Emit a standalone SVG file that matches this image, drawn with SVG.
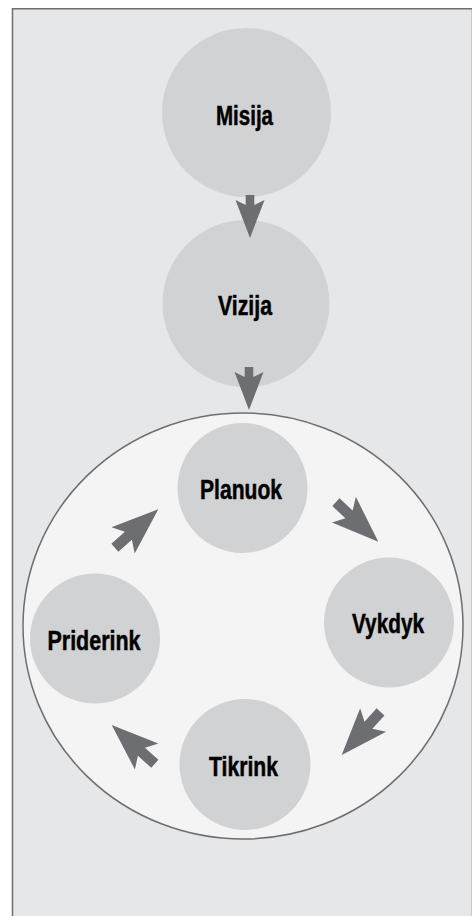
<svg xmlns="http://www.w3.org/2000/svg" width="472" height="916" viewBox="0 0 472 916">
<defs>
<style>
.bg{fill:#e6e7e8;stroke:#6d6e71;stroke-width:1.5}
.node{fill:#d1d2d4}
.ring{fill:#f4f4f5;stroke:#6d6e71;stroke-width:1.5}
.arrow{fill:#6d6e71}
.lbl{font-family:"Liberation Sans Narrow","Liberation Sans",Arial,sans-serif;font-weight:bold;font-size:27px;fill:#000;stroke:#000;stroke-width:0.5;text-anchor:middle}
</style>
<path id="va" d="M0,0 L-38,-14.5 L-33,-4.3 L-43,-4.3 L-43,4.3 L-33,4.3 L-38,14.5 Z"/>
<path id="ca" d="M0,0 L-47,-17.5 L-40,-5.3 L-58,-5.3 L-58,5.3 L-40,5.3 L-47,17.5 Z"/>
</defs>
<rect class="bg" x="12.5" y="8.75" width="460" height="920"/>
<g id="cycle">
<ellipse class="ring" cx="243" cy="626" rx="220" ry="213"/>
</g>
<g id="misija">
<circle class="node" cx="246.5" cy="112.5" r="84.5"/>
<text class="lbl" x="244.5" y="125" textLength="57" lengthAdjust="spacingAndGlyphs">Misija</text>
</g>
<g id="vizija">
<circle class="node" cx="246" cy="303.5" r="83.5"/>
<text class="lbl" x="245" y="315" textLength="54" lengthAdjust="spacingAndGlyphs">Vizija</text>
</g>
<g id="planuok">
<circle class="node" cx="242.5" cy="488" r="65"/>
<text class="lbl" x="241" y="499" textLength="82" lengthAdjust="spacingAndGlyphs">Planuok</text>
</g>
<g id="vykdyk">
<circle class="node" cx="389" cy="622.5" r="65"/>
<text class="lbl" x="388" y="633" textLength="72" lengthAdjust="spacingAndGlyphs">Vykdyk</text>
</g>
<g id="tikrink">
<circle class="node" cx="245" cy="764.5" r="65.5"/>
<text class="lbl" x="243.5" y="776" textLength="69" lengthAdjust="spacingAndGlyphs">Tikrink</text>
</g>
<g id="priderink">
<circle class="node" cx="95" cy="638.5" r="65"/>
<text class="lbl" x="94" y="649.5" textLength="93" lengthAdjust="spacingAndGlyphs">Priderink</text>
</g>
<g id="connectors" class="arrow">
<use href="#va" transform="translate(250,238) rotate(90)"/>
<use href="#va" transform="translate(249,410) rotate(90)"/>
<use href="#ca" transform="translate(378.3,541.7) rotate(43)"/>
<use href="#ca" transform="translate(341.7,755) rotate(132)"/>
<use href="#ca" transform="translate(111.7,725) rotate(-138)"/>
<use href="#ca" transform="translate(158.3,509.3) rotate(-41.5)"/>
</g>
</svg>
